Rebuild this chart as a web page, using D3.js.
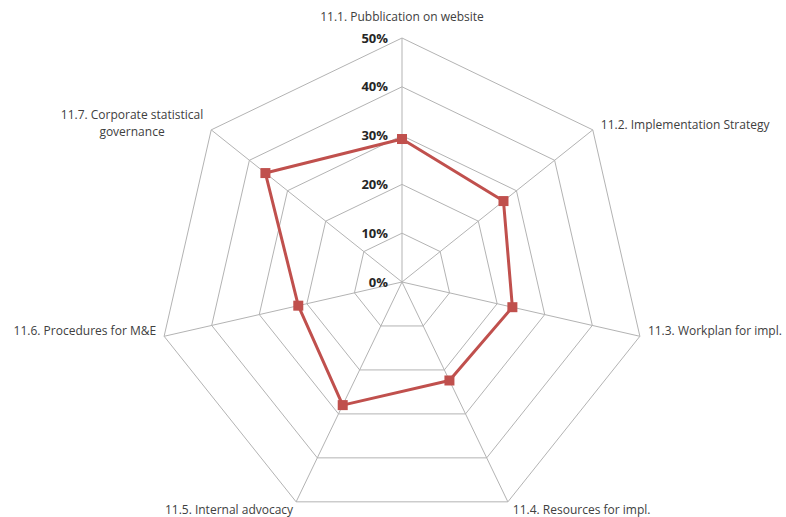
<!DOCTYPE html>
<meta charset="utf-8">
<style>
body { margin: 0; background: #fff; }
svg { display: block; }
.axis-label { font: 12px "Open Sans", sans-serif; fill: #404040; }
.tick-label { font: bold 13px "Open Sans", sans-serif; fill: #262626; }
</style>
<body>
<svg width="786" height="517"></svg>
<script src="https://cdn.jsdelivr.net/npm/d3@7"></script>
<script>
// data
var categories = [
    "11.1. Pubblication on website",
    "11.2. Implementation Strategy",
    "11.3. Workplan for impl.",
    "11.4. Resources for impl.",
    "11.5. Internal advocacy",
    "11.6. Procedures for M&E",
    "11.7. Corporate statistical governance"
];
var values = [0.293, 0.266, 0.232, 0.224, 0.28, 0.218, 0.358];
var tickValues = [0, 0.1, 0.2, 0.3, 0.4, 0.5];

var svg = d3.select("svg");
var cx = 402, cy = 282, R = 244;
var n = categories.length;

var rScale = d3.scaleLinear().domain([0, 0.5]).range([0, R]);
var angle = function(i) { return i * 2 * Math.PI / n; };
var px = function(i, v) { return cx + rScale(v) * Math.sin(angle(i)); };
var py = function(i, v) { return cy - rScale(v) * Math.cos(angle(i)); };

var g = svg.append("g");

// grid polygons
g.selectAll(".grid")
    .data(tickValues.slice(1))
    .enter().append("polygon")
    .attr("class", "grid")
    .attr("points", function(t) {
        return d3.range(n).map(function(i) { return px(i, t) + "," + py(i, t); }).join(" ");
    })
    .attr("fill", "none")
    .attr("stroke", "#b3b3b3")
    .attr("stroke-width", 1);

// spokes
g.selectAll(".spoke")
    .data(d3.range(n))
    .enter().append("line")
    .attr("x1", cx).attr("y1", cy)
    .attr("x2", function(i) { return px(i, 0.5); })
    .attr("y2", function(i) { return py(i, 0.5); })
    .attr("stroke", "#b3b3b3")
    .attr("stroke-width", 1);

// tick labels
g.selectAll(".tick-label")
    .data(tickValues)
    .enter().append("text")
    .attr("class", "tick-label")
    .attr("x", cx - 14)
    .attr("y", function(t) { return cy - rScale(t); })
    .attr("dy", "0.35em")
    .attr("text-anchor", "end")
    .text(d3.format(".0%"));

// series
var line = d3.line()
    .x(function(d, i) { return px(i, d); })
    .y(function(d, i) { return py(i, d); })
    .curve(d3.curveLinearClosed);

g.append("path")
    .datum(values)
    .attr("d", line)
    .attr("fill", "none")
    .attr("stroke", "#c0504d")
    .attr("stroke-width", 3)
    .attr("stroke-linejoin", "round");

g.selectAll(".marker")
    .data(values)
    .enter().append("rect")
    .attr("x", function(d, i) { return px(i, d) - 5; })
    .attr("y", function(d, i) { return py(i, d) - 5; })
    .attr("width", 10).attr("height", 10)
    .attr("fill", "#c0504d");

// category labels
var labels = g.selectAll(".axis-label")
    .data(categories)
    .enter().append("text")
    .attr("class", "axis-label")
    .attr("x", function(d, i) {
        var s = Math.sin(angle(i)), c = Math.cos(angle(i));
        var x = px(i, 0.5);
        if (Math.abs(s) < 0.01) return x;
        if (c < -0.8) return s > 0 ? x + 5 : x - 3;
        if (i === n - 1) return 132;
        return s > 0 ? x + 8 : x - 8;
    })
    .attr("y", function(d, i) {
        var c = Math.cos(angle(i));
        var y = py(i, 0.5);
        if (Math.abs(Math.sin(angle(i))) < 0.01) return y - 21;
        if (c < -0.8) return y + 8;
        if (i === n - 1) return 115;
        return y - 5;
    })
    .attr("dy", "0.35em")
    .attr("text-anchor", function(d, i) {
        var s = Math.sin(angle(i));
        if (Math.abs(s) < 0.01 || i === n - 1) return "middle";
        return s > 0 ? "start" : "end";
    });

labels.each(function(d, i) {
    var t = d3.select(this);
    if (i === n - 1) {
        t.append("tspan").attr("x", t.attr("x")).text("11.7. Corporate statistical");
        t.append("tspan").attr("x", t.attr("x")).attr("dy", 17).text("governance");
    } else {
        t.text(d);
    }
});
</script>
</body>
